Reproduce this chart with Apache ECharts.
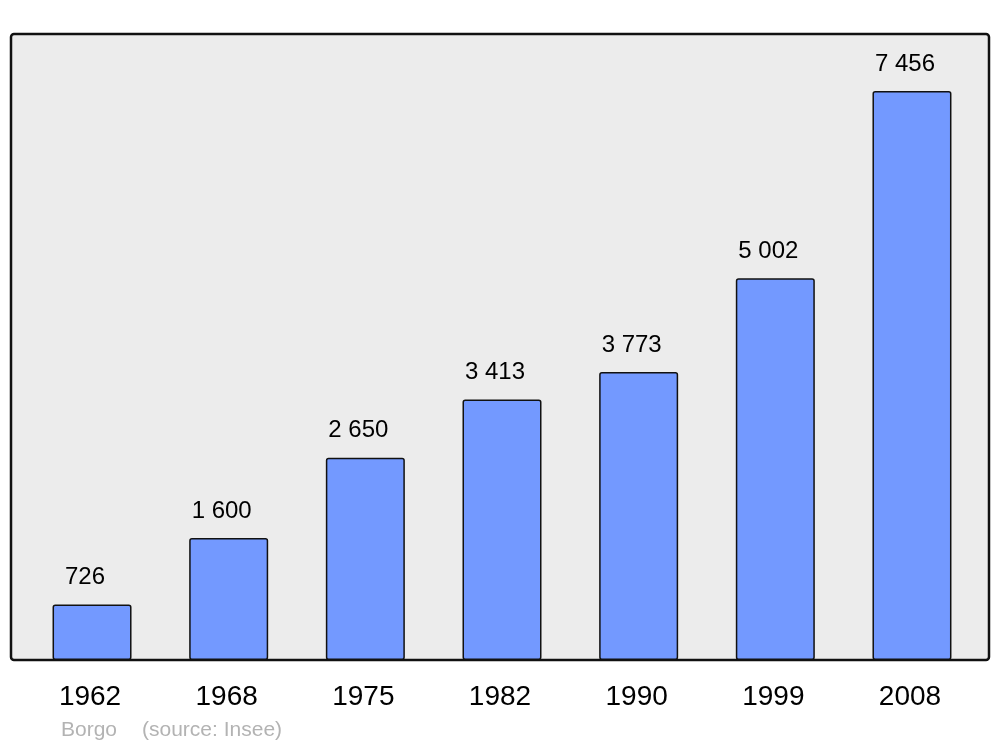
<!DOCTYPE html>
<html>
<head>
<meta charset="utf-8">
<script src="https://cdn.jsdelivr.net/npm/echarts@6/dist/echarts.min.js"></script>
<style>html,body{margin:0;padding:0;background:#fff}#c{width:1000px;height:747px}</style>
</head>
<body>
<div id="c"></div>
<script>
const years = ['1962', '1968', '1975', '1982', '1990', '1999', '2008'];
const population = [726, 1600, 2650, 3413, 3773, 5002, 7456];
const place = 'Borgo';
const source = '(source: Insee)';

const fmt = v => String(v).replace(/\B(?=(\d{3})+(?!\d))/g, ' ');

const chart = echarts.init(document.getElementById('c'), null, {renderer: 'canvas'});
chart.setOption({
  animation: false,
  backgroundColor: '#ffffff',
  textStyle: {fontFamily: 'Liberation Sans, Arial, sans-serif'},
  graphic: [
    {type: 'rect', z: -10, shape: {x: 11, y: 34, width: 978, height: 626, r: 3},
     style: {fill: '#ececec', stroke: '#111', lineWidth: 2.5}, silent: true},
    {type: 'text', left: 61, top: 720,
     style: {text: place, fill: '#b3b3b3', font: '21px "Liberation Sans", Arial, sans-serif'}},
    {type: 'text', left: 142, top: 720,
     style: {text: source, fill: '#b3b3b3', font: '21px "Liberation Sans", Arial, sans-serif'}}
  ],
  grid: {left: 23.7, right: 19.7, top: 34, bottom: 87},
  xAxis: {
    type: 'category', data: years,
    axisLine: {show: false}, axisTick: {show: false},
    axisLabel: {color: '#000', fontSize: 28, margin: 23, padding: [0, 4, 0, 0]}
  },
  yAxis: {
    type: 'value', min: 0, max: 8202, show: false, splitLine: {show: false}
  },
  series: [{
    type: 'bar', data: population, barWidth: 79,
    itemStyle: {color: '#7399ff', borderColor: '#111', borderWidth: 1.5, borderRadius: 2},
    label: {show: true, position: 'top', distance: 15, offset: [-7, 0], color: '#000', fontSize: 24,
      formatter: p => fmt(p.value)}
  }]
});
</script>
</body>
</html>
